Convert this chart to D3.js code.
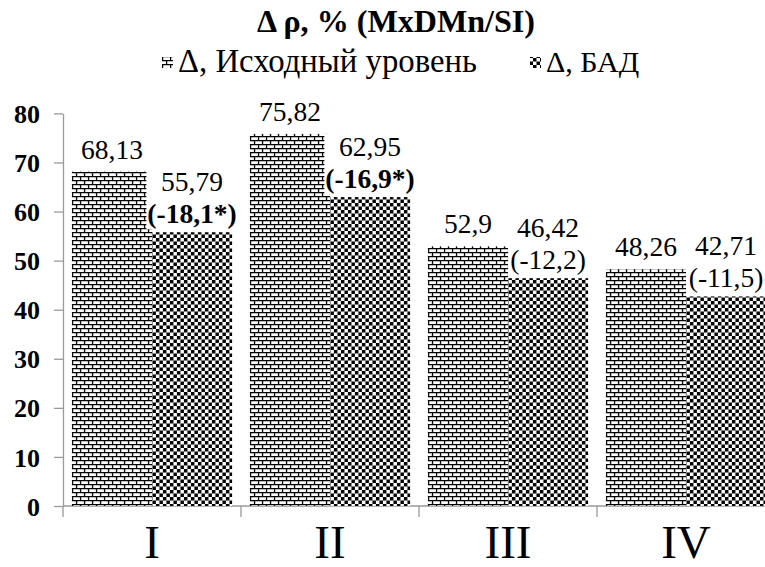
<!DOCTYPE html>
<html lang="ru">
<head>
<meta charset="UTF-8">
<title>Δ ρ, % (MxDMn/SI)</title>
<script src="https://d3js.org/d3.v7.min.js"></script>
<style>
  body { margin: 0; background: #fff; }
  .axis path, .axis line { stroke: #9a9a9a; stroke-width: 1.3; }
</style>
</head>
<body>
<div id="chart"></div>
<script>
// chart data
const groups = ["I", "II", "III", "IV"];
const baseline = [68.13, 75.82, 52.9, 48.26];      // Δ, Исходный уровень
const supplement = [55.79, 62.95, 46.42, 42.71];   // Δ, БАД
const changeLabels = ["(-18,1*)", "(-16,9*)", "(-12,2)", "(-11,5)"];
const changeBold = [true, true, false, false];
const seriesNames = ["Δ, Исходный уровень", "Δ, БАД"];
const yTicks = [0, 10, 20, 30, 40, 50, 60, 70, 80];

const W = 765, H = 567;
const FONT = "Liberation Serif";
const fmt = v => String(v).replace(".", ",");

const svg = d3.select("#chart").append("svg")
    .attr("width", W).attr("height", H)
    .attr("font-family", FONT);

// shrink/grow a text until it has the given width
function fitWidth(t, w) {
  const fs = +t.attr("font-size");
  const cur = t.node().getComputedTextLength();
  t.attr("font-size", (fs * w / cur).toFixed(2));
}

// fill patterns
const defs = svg.append("defs");
const brick = defs.append("pattern")
    .attr("id", "brick").attr("patternUnits", "userSpaceOnUse")
    .attr("width", 8).attr("height", 8);
brick.append("rect").attr("width", 8).attr("height", 8).attr("fill", "#fff");
brick.append("path")
    .attr("d", "M0,0.6H8M0,4.6H8M0.6,0.6V4.6M4.6,4.6V8.6")
    .attr("stroke", "#000").attr("stroke-width", 1.3).attr("fill", "none");

const checker = defs.append("pattern")
    .attr("id", "checker").attr("patternUnits", "userSpaceOnUse")
    .attr("width", 7).attr("height", 7);
checker.append("rect").attr("width", 7).attr("height", 7).attr("fill", "#fff");
checker.append("rect").attr("width", 3.5).attr("height", 3.5).attr("fill", "#000");
checker.append("rect").attr("x", 3.5).attr("y", 3.5).attr("width", 3.5).attr("height", 3.5).attr("fill", "#000");

const fills = ["url(#brick)", "url(#checker)"];

// scales
const x = d3.scaleBand().domain(groups).range([63, 775]).paddingInner(0.1).paddingOuter(0.05);
const xs = d3.scaleBand().domain([0, 1]).range([0, x.bandwidth()]);
const y = d3.scaleLinear().domain([0, 80]).range([506, 113.4]);

// y axis
svg.append("g").attr("class", "axis")
    .attr("transform", "translate(63,0)")
    .call(d3.axisLeft(y).tickValues(yTicks).tickSize(9).tickSizeOuter(0).tickPadding(14))
    .call(g => g.attr("font-family", FONT).attr("font-size", 26).attr("font-weight", "bold"))
    .call(g => g.selectAll("text").attr("dy", "0.35em").attr("fill", "#000")
        .attr("font-family", FONT));

// x axis with boundary ticks
const step = x.step();
const xAxis = svg.append("g").attr("class", "axis")
    .attr("transform", "translate(0,506)");
xAxis.append("line").attr("x1", 63).attr("x2", 775).attr("y1", 0).attr("y2", 0);
xAxis.selectAll(".bt").data(d3.range(groups.length + 1)).join("line")
    .attr("class", "bt")
    .attr("x1", i => 63 + i * step).attr("x2", i => 63 + i * step)
    .attr("y1", 0).attr("y2", 11);

svg.selectAll(".cat").data(groups).join("text")
    .attr("class", "cat")
    .attr("x", d => x(d) + x.bandwidth() / 2)
    .attr("y", 558)
    .attr("text-anchor", "middle")
    .attr("font-family", FONT)
    .attr("font-size", 47)
    .text(d => d);

// bars
const rows = groups.map((g, i) => ({ g, i, vals: [baseline[i], supplement[i]] }));
const grp = svg.selectAll(".grp").data(rows).join("g")
    .attr("class", "grp")
    .attr("transform", d => `translate(${x(d.g)},0)`);

grp.selectAll("rect").data(d => d.vals.map((v, s) => ({ v, s }))).join("rect")
    .attr("x", d => xs(d.s))
    .attr("width", xs.bandwidth())
    .attr("y", d => y(d.v))
    .attr("height", d => y(0) - y(d.v))
    .attr("fill", d => fills[d.s]);

// labels with white boxes
const labels = svg.append("g");
function addLabel(cx, lines) {
  const g = labels.append("g");
  const bg = g.append("rect").attr("fill", "#fff");
  lines.forEach(l => {
    g.append("text")
      .attr("x", cx).attr("y", l.y)
      .attr("text-anchor", "middle")
      .attr("font-family", FONT)
      .attr("font-size", 27.5)
      .attr("font-weight", l.bold ? "bold" : "normal")
      .text(l.t);
  });
  const b = g.node().getBBox();
  bg.attr("x", b.x - 1).attr("y", b.y + 3).attr("width", b.width + 2).attr("height", b.height - 3);
}

rows.forEach(d => {
  const x0 = x(d.g);
  const c0 = x0 + xs(0) + xs.bandwidth() / 2;
  const c1 = x0 + xs(1) + xs.bandwidth() / 2;
  addLabel(c0, [{ t: fmt(d.vals[0]), y: y(d.vals[0]) - 13 }]);
  const base2 = y(d.vals[1]) - 9;
  addLabel(c1, [
    { t: fmt(d.vals[1]), y: base2 - 32 },
    { t: changeLabels[d.i], y: base2, bold: changeBold[d.i] }
  ]);
});

// title
const title = svg.append("text")
    .attr("x", 396).attr("y", 32)
    .attr("text-anchor", "middle")
    .attr("font-family", FONT)
    .attr("font-size", 30).attr("font-weight", "bold")
    .text("Δ ρ, % (MxDMn/SI)");
fitWidth(title, 278);

// legend
const legend = svg.append("g").attr("transform", "translate(162,72)");
const items = [{ x: 0, name: seriesNames[0], f: fills[0] }, { x: 368, name: seriesNames[1], f: fills[1] }];
items.forEach((it, i) => {
  legend.append("rect").attr("x", it.x).attr("y", -15).attr("width", 11).attr("height", 11).attr("fill", it.f);
  const t = legend.append("text").attr("x", it.x + 16).attr("y", 0)
    .attr("font-family", FONT)
    .attr("font-size", 30).text(it.name);
  if (i === 0) fitWidth(t, 299);
});
</script>
</body>
</html>
